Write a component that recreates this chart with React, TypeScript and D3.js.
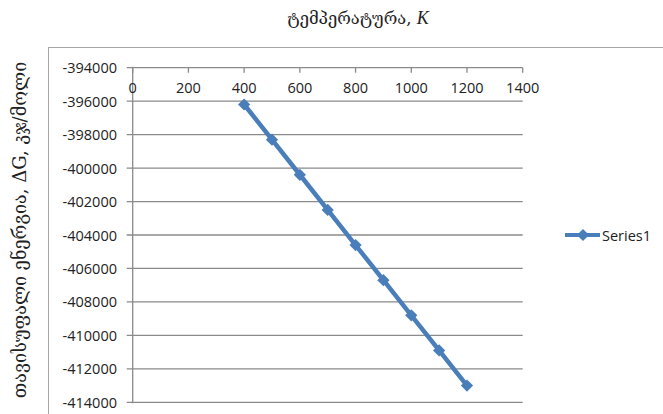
import React from "react";
import * as d3 from "d3";

const temperatures = [400, 500, 600, 700, 800, 900, 1000, 1100, 1200];
const deltaG = [-396200, -398300, -400400, -402500, -404600, -406700, -408800, -410900, -413000];
const xTicks = [0, 200, 400, 600, 800, 1000, 1200, 1400];
const yTicks = [-394000, -396000, -398000, -400000, -402000, -404000, -406000, -408000, -410000, -412000, -414000];
const seriesName = "Series1";
const titleText = "ტემპერატურა, ";
const titleUnit = "K";
const yTitle = "თავისუფალი ენერგია, ΔG, კჯ/მოლი";

const W = 663;
const H = 414;
const BLUE = "#4a7ebb";
const GRID = "#8a8a8a";

export default function App() {
  const x = d3.scaleLinear().domain([0, 1400]).range([132.7, 522.7]);
  const y = d3.scaleLinear().domain([-414000, -394000]).range([402.3, 67.7]);
  const pts: [number, number][] = temperatures.map((t, i) => [x(t), y(deltaG[i])]);
  const line = d3.line<[number, number]>()(pts) || "";
  const diamond = d3.symbol().type(d3.symbolDiamond2).size(95)() || "";
  const labelFont = "'Open Sans', 'Liberation Sans', sans-serif";
  const x0 = x(0);
  const yTop = y(-394000);
  return (
    <svg width={W} height={H} style={{ position: "absolute", left: 0, top: 0, background: "#fff" }}>
      <rect x={48.5} y={47.5} width={W} height={H} fill="none" stroke="#a6a6a6" strokeWidth={1} />
      {/* Title */}
      <text x={358} y={24} textAnchor="middle" fontFamily="'DejaVu Serif', serif" fontSize={16.5} fill="#222">
        {titleText}
        <tspan fontStyle="italic" fontFamily="'Liberation Serif', serif" fontSize={18}>{titleUnit}</tspan>
      </text>
      {/* Y title */}
      <text
        transform={`translate(19,230) rotate(-90)`}
        textAnchor="middle"
        dominantBaseline="central"
        fontFamily="'DejaVu Serif', serif"
        fontSize={18}
        fill="#222"
      >
        {yTitle}
      </text>
      {/* Gridlines */}
      {yTicks.map((v) => (
        <g key={v}>
          <line x1={x0 - 6} x2={x(1400)} y1={y(v)} y2={y(v)} stroke={GRID} strokeWidth={1.3} />
          <text
            x={117}
            y={y(v)}
            textAnchor="end"
            dominantBaseline="central"
            fontFamily={labelFont}
            fontSize={14.5}
            fill="#222"
          >
            {v}
          </text>
        </g>
      ))}
      {/* Y axis */}
      <line x1={x0} x2={x0} y1={yTop - 1} y2={y(-414000) + 1} stroke={GRID} strokeWidth={1.3} />
      {/* X ticks (top axis) */}
      {xTicks.map((t) => (
        <g key={t}>
          <line x1={x(t)} x2={x(t)} y1={yTop} y2={yTop + 5} stroke={GRID} strokeWidth={1.3} />
          <text x={x(t)} y={93} textAnchor="middle" fontFamily={labelFont} fontSize={14.5} fill="#222">
            {t}
          </text>
        </g>
      ))}
      {/* Series */}
      <path d={line} fill="none" stroke={BLUE} strokeWidth={4.5} strokeLinejoin="round" />
      {pts.map(([px, py], i) => (
        <path key={i} d={diamond} transform={`translate(${px},${py})`} fill={BLUE} />
      ))}
      {/* Legend */}
      <line x1={565} x2={600} y1={235} y2={235} stroke={BLUE} strokeWidth={4} />
      <path d={diamond} transform="translate(583,235)" fill={BLUE} />
      <text x={602} y={235} dominantBaseline="central" fontFamily={labelFont} fontSize={14.5} fill="#222">
        {seriesName}
      </text>
    </svg>
  );
}
